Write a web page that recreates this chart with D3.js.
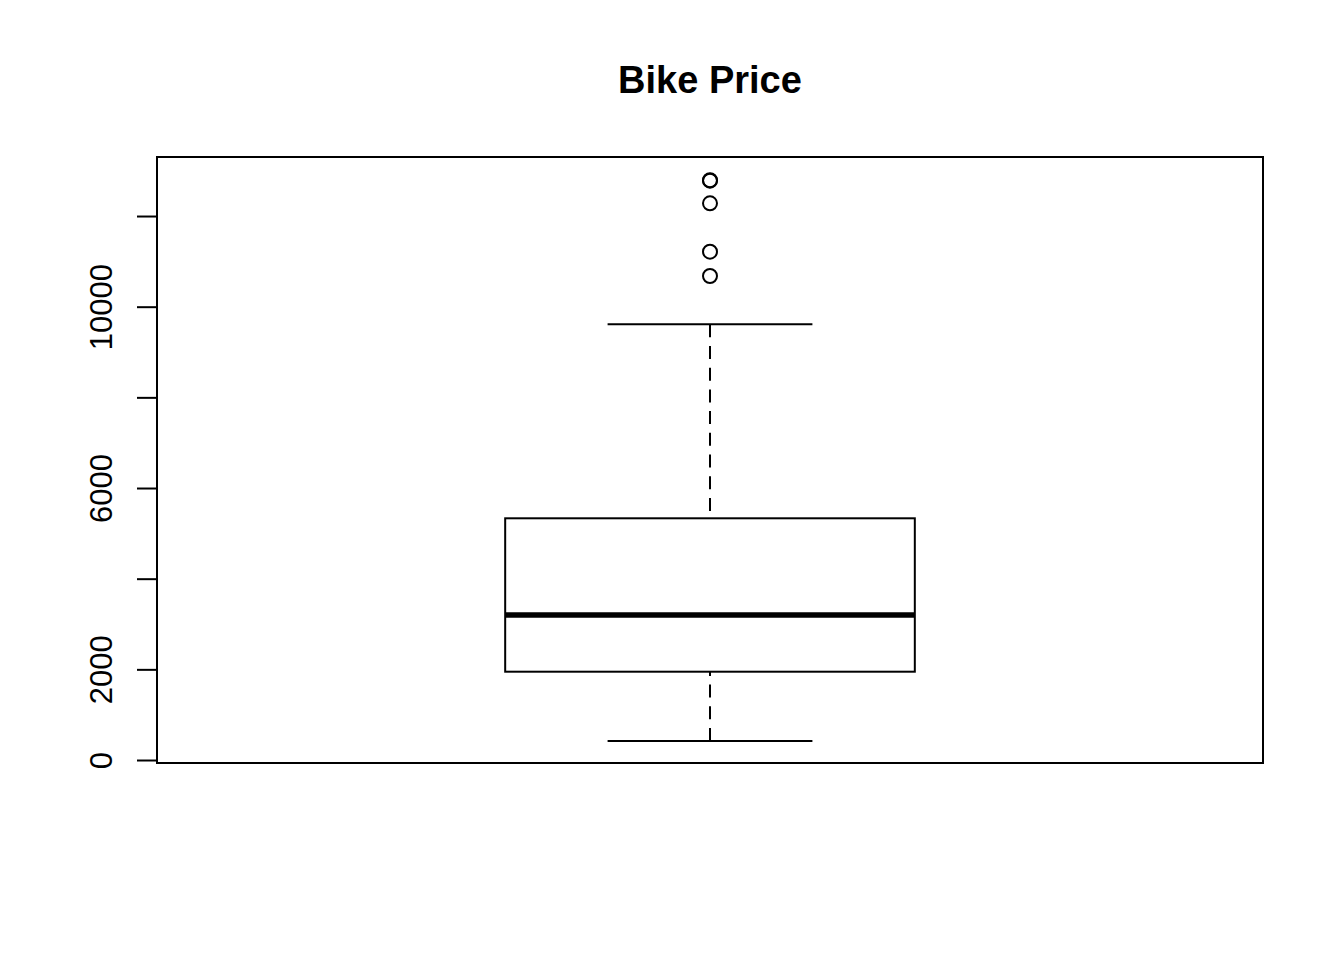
<!DOCTYPE html>
<html>
<head>
<meta charset="utf-8">
<script src="https://cdn.jsdelivr.net/npm/d3@7"></script>
<style>
  html, body { margin: 0; padding: 0; background: #fff; }
  svg { display: block; }
</style>
</head>
<body>
<svg id="chart" width="1344" height="960"></svg>
<script>
// ---- data ----
const title = "Bike Price";
const boxStats = { lowerWhisker: 419, q1: 1948, median: 3199, q3: 5332, upperWhisker: 9612 };
const outliers = [12780, 12790, 12281, 11213, 10677];
const yTickValues = [0, 2000, 4000, 6000, 8000, 10000, 12000];
const yTickLabels = ["0", "2000", "", "6000", "", "10000", ""];

// ---- layout ----
(function () {
const svg = d3.select("#chart");
const pLeft = 157, pRight = 1263, pTop = 157, pBottom = 763;
const font = "'Liberation Sans', Arial, Helvetica, sans-serif";

const y = d3.scaleLinear().domain([-66, 13302]).range([pBottom, pTop]);
const x = d3.scaleLinear().domain([0.46, 1.54]).range([pLeft, pRight]);

// title
svg.append("text")
  .attr("x", (pLeft + pRight) / 2)
  .attr("y", 93)
  .attr("text-anchor", "middle")
  .style("font-family", font)
  .style("font-weight", "bold")
  .style("font-size", "38px")
  .text(title);

// y axis
const axis = d3.axisLeft(y)
  .tickValues(yTickValues)
  .tickSize(20)
  .tickFormat((d, i) => yTickLabels[i]);
const gAxis = svg.append("g").attr("transform", `translate(${pLeft},0)`).call(axis);
gAxis.select(".domain").remove();
gAxis.selectAll(".tick line").attr("stroke", "#000").attr("stroke-width", 2);
gAxis.selectAll(".tick text")
  .attr("x", null).attr("dy", null)
  .attr("transform", "translate(-45,0) rotate(-90)")
  .attr("text-anchor", "middle")
  .attr("fill", "#000")
  .style("font-family", font)
  .style("font-size", "31px");
svg.append("line")
  .attr("x1", pLeft).attr("x2", pLeft)
  .attr("y1", y(0)).attr("y2", y(12000))
  .attr("stroke", "#000").attr("stroke-width", 2);

// frame
svg.append("rect")
  .attr("x", pLeft).attr("y", pTop)
  .attr("width", pRight - pLeft).attr("height", pBottom - pTop)
  .attr("fill", "none").attr("stroke", "#000").attr("stroke-width", 2);

// box
const cx = x(1);
const g = svg.append("g");
g.append("line")
  .attr("x1", cx).attr("x2", cx)
  .attr("y1", y(boxStats.upperWhisker)).attr("y2", y(boxStats.q3))
  .attr("stroke", "#000").attr("stroke-width", 2).attr("stroke-dasharray", "13 8.7");
g.append("line")
  .attr("x1", cx).attr("x2", cx)
  .attr("y1", y(boxStats.lowerWhisker)).attr("y2", y(boxStats.q1))
  .attr("stroke", "#000").attr("stroke-width", 2).attr("stroke-dasharray", "13 8.7");
[boxStats.upperWhisker, boxStats.lowerWhisker].forEach(v => {
  g.append("line")
    .attr("x1", x(0.9)).attr("x2", x(1.1))
    .attr("y1", y(v)).attr("y2", y(v))
    .attr("stroke", "#000").attr("stroke-width", 2);
});
g.append("rect")
  .attr("x", x(0.8)).attr("y", y(boxStats.q3))
  .attr("width", x(1.2) - x(0.8))
  .attr("height", y(boxStats.q1) - y(boxStats.q3))
  .attr("fill", "#fff").attr("stroke", "#000").attr("stroke-width", 2);
g.append("line")
  .attr("x1", x(0.8)).attr("x2", x(1.2))
  .attr("y1", y(boxStats.median)).attr("y2", y(boxStats.median))
  .attr("stroke", "#000").attr("stroke-width", 5.5);
g.selectAll("circle.out").data(outliers).enter().append("circle")
  .attr("class", "out")
  .attr("cx", cx).attr("cy", d => y(d))
  .attr("r", 7)
  .attr("fill", "none").attr("stroke", "#000").attr("stroke-width", 2);
})();
</script>
</body>
</html>
